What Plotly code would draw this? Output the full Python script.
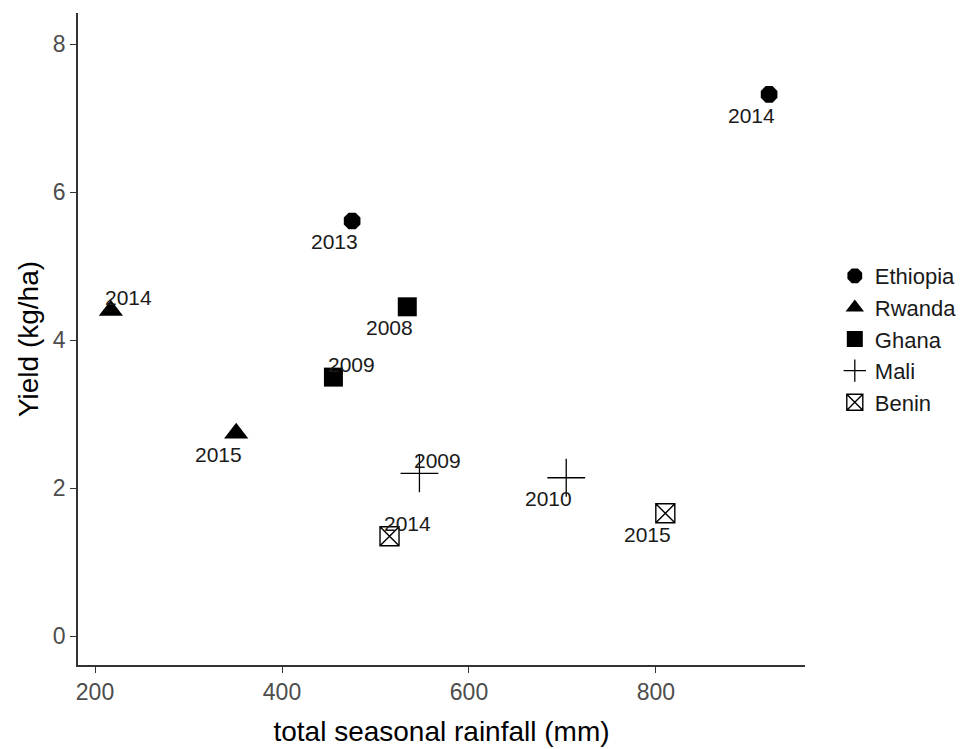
import plotly.graph_objects as go

# Yield vs. seasonal rainfall by country and year
countries = ["Ethiopia", "Rwanda", "Ghana", "Mali", "Benin"]
rainfall = {
    "Ethiopia": [921, 475],
    "Rwanda": [217, 351],
    "Ghana": [534, 455],
    "Mali": [547, 704],
    "Benin": [515, 810],
}
yield_kg_ha = {
    "Ethiopia": [7.32, 5.61],
    "Rwanda": [4.40, 2.74],
    "Ghana": [4.45, 3.50],
    "Mali": [2.20, 2.14],
    "Benin": [1.35, 1.66],
}
years = {
    "Ethiopia": ["2014", "2013"],
    "Rwanda": ["2014", "2015"],
    "Ghana": ["2008", "2009"],
    "Mali": ["2009", "2010"],
    "Benin": ["2014", "2015"],
}

# marker styling per country
symbols = {
    "Ethiopia": dict(symbol="octagon", size=18, color="black", line=dict(width=0)),
    "Rwanda": dict(symbol="triangle-up", size=21, color="black", line=dict(width=0)),
    "Ghana": dict(symbol="square", size=19, color="black", line=dict(width=0)),
    "Mali": dict(symbol="cross-thin-open", size=27, color="black",
                 line=dict(width=1.3, color="black")),
    "Benin": dict(symbol="square-x-open", size=19, color="black",
                  line=dict(width=1.4, color="black")),
}
# label placement: "bl" = below-left of point, "ar" = above-right of point
label_side = {
    "Ethiopia": ["bl", "bl"],
    "Rwanda": ["ar", "bl"],
    "Ghana": ["bl", "ar"],
    "Mali": ["ar", "bl"],
    "Benin": ["ar", "bl"],
}
offsets = {"bl": (-18, -21), "ar": (18, 13)}

FONT = "Liberation Sans, Arial, sans-serif"

fig = go.Figure()
annotations = []
for c in countries:
    fig.add_trace(go.Scatter(
        x=rainfall[c], y=yield_kg_ha[c], mode="markers", name=c,
        marker=symbols[c], hoverinfo="x+y+name",
    ))
    for xv, yv, yr, side in zip(rainfall[c], yield_kg_ha[c], years[c], label_side[c]):
        dx, dy = offsets[side]
        annotations.append(dict(
            x=xv, y=yv, text=yr, showarrow=False, xshift=dx, yshift=dy,
            xanchor="center", yanchor="middle",
            font=dict(family=FONT, size=21, color="#1a1a1a"),
        ))

fig.update_layout(
    width=966, height=749,
    margin=dict(l=78, r=161, t=13, b=84, autoexpand=False),
    paper_bgcolor="white", plot_bgcolor="white",
    font=dict(family=FONT, color="#1a1a1a"),
    annotations=annotations,
    showlegend=True,
    legend=dict(
        x=1.041, xanchor="left", y=0.5, yanchor="middle",
        font=dict(family=FONT, size=22, color="#1a1a1a"),
        bgcolor="rgba(0,0,0,0)", itemsizing="trace",
    ),
    xaxis=dict(
        range=[181.8, 959.4], tickvals=[200, 400, 600, 800],
        showgrid=False, zeroline=False, showline=True,
        linecolor="#333333", linewidth=1.6, mirror=False,
        ticks="outside", ticklen=6, tickwidth=1.2, tickcolor="#333333",
        tickfont=dict(family=FONT, size=23, color="#4d4d4d"),
        title=dict(text="total seasonal rainfall (mm)",
                   font=dict(family=FONT, size=28, color="black"), standoff=17),
    ),
    yaxis=dict(
        range=[-0.39, 8.42], tickvals=[0, 2, 4, 6, 8],
        showgrid=False, zeroline=False, showline=True,
        linecolor="#333333", linewidth=1.6,
        ticks="outside", ticklen=6, tickwidth=1.2, tickcolor="#333333",
        tickfont=dict(family=FONT, size=23, color="#4d4d4d"),
        title=dict(text="Yield (kg/ha)",
                   font=dict(family=FONT, size=28, color="black"), standoff=6),
    ),
)

fig.write_html("out.html")
